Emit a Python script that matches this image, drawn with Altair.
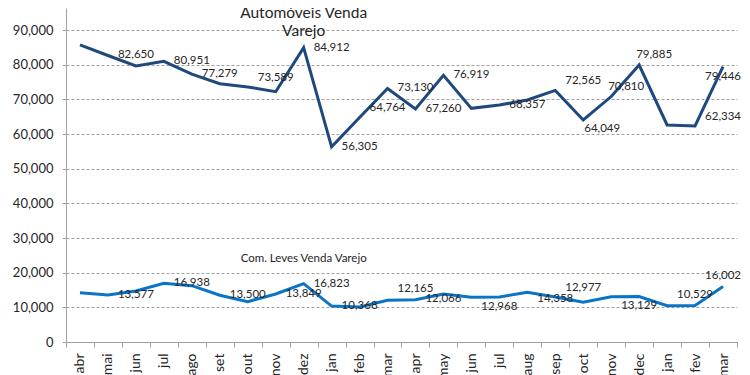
import altair as alt
import pandas as pd

months = ["abr", "mai", "jun", "jul", "ago", "set", "out", "nov", "dez", "jan", "feb", "mar",
          "apr", "may", "jun", "jul", "aug", "sep", "oct", "nov", "dec", "jan", "fev", "mar"]

autos = [85700, 82650, 79650, 80951, 77279, 74500, 73589, 72200, 84912, 56305, 64764, 73130,
         67260, 76919, 67400, 68357, 69800, 72565, 64049, 70810, 79885, 62600, 62334, 79446]
leves = [14220, 13577, 14700, 16938, 16250, 13500, 11630, 13849, 16823, 10368, 10100, 12066,
         12165, 13850, 12900, 12968, 14358, 12977, 11450, 13070, 13129, 10480, 10529, 16002]

autos_label_idx = [1, 3, 4, 6, 8, 9, 10, 11, 12, 13, 15, 17, 18, 19, 20, 22, 23]
autos_label_val = [82650, 80951, 77279, 73589, 84912, 56305, 64764, 73130, 67260, 76919,
                   68357, 72565, 64049, 70810, 79885, 62334, 79446]
autos_label_place = ["r", "r", "r", "ru", "r", "r", "ru", "r", "r", "r", "r", "ru", "rb", "ra",
                     "ra", "ru", "b"]

leves_label_idx = [1, 3, 5, 7, 8, 9, 12, 13, 15, 16, 17, 20, 22, 23]
leves_label_val = [13577, 16938, 13500, 13849, 16823, 10368, 12165, 12066, 12968, 14358,
                   12977, 13129, 10529, 16002]
leves_label_place = ["r", "r", "r", "r", "r", "r", "a", "c", "b", "rd", "ru", "b", "a", "a"]

series_names = ["Automóveis Venda Varejo", "Com. Leves Venda Varejo"]
annot_text = ["Automóveis Venda\nVarejo", "Com. Leves Venda Varejo"]
annot_idx = [8, 8]
annot_val = [94900, 24000]

DARK = "#1F497D"
LIGHT = "#0A74C8"
TXT = "#262626"
GRAY = "#A0A0A0"

rows = []
for i, v in enumerate(autos):
    rows.append({"idx": i, "value": v, "series": series_names[0]})
for i, v in enumerate(leves):
    rows.append({"idx": i, "value": v, "series": series_names[1]})
lines_df = pd.DataFrame(rows)

lab = []
for i, v, p in zip(autos_label_idx, autos_label_val, autos_label_place):
    lab.append({"idx": i, "value": v, "place": p})
for i, v, p in zip(leves_label_idx, leves_label_val, leves_label_place):
    lab.append({"idx": i, "value": v, "place": p})
labels_df = pd.DataFrame(lab)

annot_df = pd.DataFrame({"idx": annot_idx, "value": annot_val, "text": annot_text,
                         "kind": ["title", "sub"]})

month_js = "[" + ",".join("'" + m + "'" for m in months) + "]"

x_enc = alt.X(
    "idx:O",
    scale=alt.Scale(type="band", paddingInner=0, paddingOuter=0, domain=list(range(len(months)))),
    bandPosition=0.5,
    axis=alt.Axis(
        title=None, labelExpr=month_js + "[datum.value]", labelAngle=-90,
        labelFontSize=14, labelColor=TXT, tickBand="extent", tickSize=5,
        tickColor=GRAY, domainColor=GRAY, labelPadding=6, grid=False,
    ),
)
y_enc = alt.Y(
    "value:Q",
    scale=alt.Scale(domain=[0, 96350], nice=False, zero=True),
    axis=alt.Axis(
        title=None, values=list(range(0, 100000, 10000)), format=",d",
        labelFontSize=13, labelColor=TXT, tickSize=4, tickColor=GRAY,
        domainColor=GRAY, labelPadding=9, grid=True, gridDash=[3, 2],
        gridColor=GRAY, gridWidth=1,
    ),
)

lines = alt.Chart(lines_df).mark_line(strokeWidth=3).encode(
    x=x_enc, y=y_enc,
    color=alt.Color("series:N", scale=alt.Scale(domain=series_names, range=[DARK, LIGHT]),
                    legend=None),
    detail="series:N",
)

placements = {
    "r": (10, 0, "left"),
    "ru": (10, -9, "left"),
    "rd": (10, 7, "left"),
    "rb": (1, 9, "left"),
    "ra": (-3, -10, "left"),
    "a": (0, -11, "center"),
    "b": (0, 10, "center"),
    "c": (0, -1, "center"),
}

layers = [lines]
for code, (dx, dy, al) in placements.items():
    layers.append(
        alt.Chart(labels_df).transform_filter(alt.datum.place == code)
        .mark_text(dx=dx, dy=dy, align=al, baseline="middle", fontSize=11.5, color=TXT)
        .encode(x=x_enc, y=y_enc, text=alt.Text("value:Q", format=",d"))
    )

layers.append(
    alt.Chart(annot_df).transform_filter(alt.datum.kind == "title")
    .mark_text(align="center", baseline="middle", fontSize=15.5, lineHeight=18,
               lineBreak="\n", color=TXT)
    .encode(x=x_enc, y=y_enc, text="text:N")
)
layers.append(
    alt.Chart(annot_df).transform_filter(alt.datum.kind == "sub")
    .mark_text(align="center", baseline="middle", fontSize=11.5, color=TXT)
    .encode(x=x_enc, y=y_enc, text="text:N")
)

chart = alt.layer(*layers).properties(
    width=671, height=334,
    autosize=alt.AutoSizeParams(type="none"),
    padding={"left": 58, "top": 0, "right": 5, "bottom": 33},
).configure(font="Lato").configure_view(stroke=None)

chart.save("out.html", embed_options={"renderer": "svg", "actions": False})
